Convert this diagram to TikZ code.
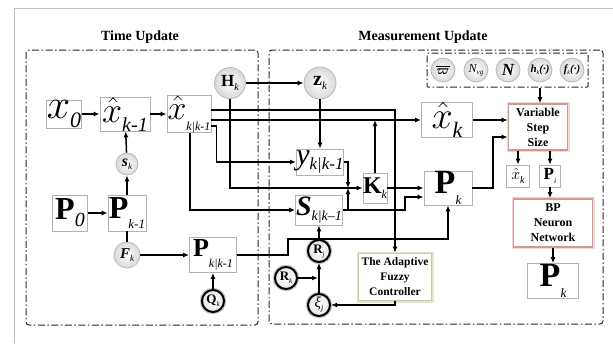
\RequirePackage{fix-cm}
\documentclass[tikz,border=0pt]{standalone}
\usepackage{amsmath,bm}
\usepackage{fontspec}
\setmainfont{Liberation Serif}
\usetikzlibrary{arrows.meta,shadows,calc}
\newcommand{\fsz}[1]{\fontsize{#1}{#1}\selectfont}
\newcommand{\lsub}[3]{\raisebox{-#1pt}{\fsz{#2}\mdseries\itshape #3}}
\newcommand{\hx}{$\hat{x}$}
\definecolor{pinkb}{RGB}{214,150,150}
\definecolor{pinkg}{RGB}{240,215,215}
\definecolor{greenb}{RGB}{190,204,160}
\definecolor{greeng}{RGB}{225,232,210}
\tikzset{
  wire/.style={line width=1.5pt, black},
  arr/.style={wire, -{Latex[length=6pt,width=5pt]}},
  blk/.style={draw=gray!60, line width=0.8pt, fill=white, inner sep=0pt,
    drop shadow={opacity=0.3, shadow xshift=0.8pt, shadow yshift=-0.8pt}},
  ball/.style={circle, draw=gray!55, line width=0.8pt, inner sep=0pt,
    minimum size=#1, inner color=white, outer color=gray!30},
  ball/.default=24pt,
  tball/.style={circle, draw=black, line width=2pt, inner sep=0pt,
    minimum size=22pt, inner color=white, outer color=gray!20,
    preaction={draw=gray!45, line width=4.5pt}},
  region/.style={draw=black!85, line width=1pt, rounded corners=3pt,
    dash pattern=on 7pt off 2.5pt on 1.5pt off 2.5pt},
  title/.style={font=\bfseries\fsz{14}},
  pinkbox/.style={draw=pinkb, line width=1.6pt, fill=white, inner sep=0pt,
    preaction={draw=pinkg, line width=4pt}, align=center,
    font=\bfseries\fontsize{12}{15}\selectfont},
  greenbox/.style={draw=greenb, line width=1.6pt, fill=white, inner sep=0pt,
    preaction={draw=greeng, line width=4pt}, align=center,
    font=\bfseries\fontsize{11.5}{15}\selectfont},
}
\begin{document}
\begin{tikzpicture}[x=1pt,y=-1pt]
\useasboundingbox (0,0) rectangle (613,343);
% page border
\draw[gray!50, line width=1pt] (14,343) -- (14,8) -- (613,8);

% regions
\node[region, minimum width=232pt, minimum height=275pt] (tu) at (142,187.5) {};
\node[region, minimum width=334pt, minimum height=274pt] (mu) at (436,187) {};
\node[title] (tut) at (140,37) {Time Update};
\node[title] (mut) at (423,37) {Measurement Update};
\node[region, rounded corners=1pt, minimum width=161pt, minimum height=34pt] (par) at (507.5,70) {};

% parameter circles
\node[ball] (c1) at (443,70) {\fsz{13}$\boldsymbol{\overline{\varpi}}$};
\node[ball] (c2) at (476,70) {\fsz{12}\itshape N\lsub{2}{7}{vg}};
\node[ball] (c3) at (508,70) {\fsz{17}\bfseries\itshape N};
\node[ball] (c4) at (540,70) {\fsz{11}\bfseries\itshape h\lsub{2}{6}{k}(·)};
\node[ball] (c5) at (572,70) {\fsz{11}\bfseries\itshape f\lsub{2}{6}{k}(·)};

% time update nodes
\node[blk, minimum width=35pt, minimum height=28pt] (x0) at (64,114) {\fsz{42}$x$\lsub{9}{22}{0}};
\node[blk, minimum width=50pt, minimum height=27pt] (xk1) at (125,114) {\fsz{36}\hx\lsub{9}{20}{k-1}};
\node[blk, minimum width=44pt, minimum height=27pt] (xkk) at (189,114) {\fsz{34}\hx\lsub{11}{12}{k|k-1}};
\node[ball=31pt] (Hk) at (230,83) {\fsz{17}\bfseries H\lsub{4}{10}{k}};
\node[ball=22pt] (sk) at (127,164) {\fsz{16}\bfseries\itshape s\lsub{3}{9}{k}};
\node[blk, minimum width=35pt, minimum height=36pt] (P0) at (70,213) {\fsz{32}\bfseries P\lsub{7}{20}{0}};
\node[blk, minimum width=38pt, minimum height=36pt] (Pk1) at (127,213) {\fsz{32}\bfseries P\lsub{10}{13}{k-1}};
\node[ball=26pt] (Fk) at (127,255) {\fsz{15}\bfseries\itshape F\lsub{3}{9}{k}};
\node[blk, minimum width=47pt, minimum height=35pt] (Pkk) at (213,255) {\fsz{26}\bfseries P\lsub{11}{12}{k|k-1}};
\node[tball] (Qk) at (213,301) {\fsz{13}\bfseries Q\lsub{3}{7}{k}};

% measurement update nodes
\node[ball=32pt] (zk) at (320,83) {\fsz{20}\bfseries z\lsub{4}{11}{k}};
\node[blk, minimum width=51pt, minimum height=35pt] (xk) at (447,120) {\fsz{38}\hx\lsub{9}{22}{k}};
\node[pinkbox, minimum width=59pt, minimum height=46pt] (VSS) at (538,127) {Variable\\Step\\Size};
\node[blk, minimum width=47pt, minimum height=26pt] (ykk) at (320,162) {\fsz{30}\itshape y\lsub{5}{17}{k|k-1}};
\node[blk, minimum width=24pt, minimum height=30pt] (Kk) at (375,188) {\fsz{24}\bfseries K\lsub{5}{12}{k}};
\node[blk, minimum width=47pt, minimum height=30pt] (Skk) at (319,210) {\fsz{28}\bfseries\itshape S\lsub{5}{14}{k|k–1}};
\node[blk, minimum width=48pt, minimum height=34pt] (Pk) at (448,188) {\fsz{34}\bfseries P\lsub{11}{13}{k}};
\node[blk, minimum width=23pt, minimum height=22pt] (xks) at (518,176) {\fsz{16}\hx\lsub{4}{10}{k}};
\node[blk, minimum width=21pt, minimum height=22pt] (Pi) at (550,176) {\fsz{17}\bfseries P\lsub{4}{8}{i}};
\node[pinkbox, minimum width=79pt, minimum height=48pt] (BP) at (553,223) {BP\\Neuron\\Network};
\node[blk, minimum width=51pt, minimum height=35pt] (Pkr) at (553,281) {\fsz{34}\bfseries P\lsub{11}{13}{k}};
\node[tball] (Rj) at (319,251) {\fsz{13}\bfseries R\lsub{3}{7}{j}};
\node[tball] (Rk) at (286,278) {\fsz{13}\bfseries R\lsub{3}{7}{k}};
\node[tball] (xij) at (319,305) {\fsz{15}\itshape ξ\lsub{3}{8}{j}};
\node[greenbox, minimum width=73pt, minimum height=47pt] (AFC) at (395,277) {The Adaptive\\Fuzzy\\Controller};

% helper coordinates
\coordinate (h110) at (0,110);
\coordinate (h127) at (0,126);
\coordinate (v190) at (190,0);
\coordinate (v540) at (540,0);
\coordinate (jK) at (348,188);
\coordinate (jS) at (405,197);
\coordinate (jP) at (493,137);
\coordinate (pb) at (288,239);

% time update wires
\draw[arr] (x0) -- (xk1);
\draw[arr] (xk1) -- (xkk);
\draw[arr] (Pk1) -- (sk);
\draw[arr] (sk) -- (xk1);
\draw[arr] (P0) -- (Pk1);
\draw[wire] (Pk1) -- (Fk);
\draw[arr] (Fk.east) -- (Fk.east -| Pkk.west);
\draw[arr] (Qk) -- (Pkk);
\draw[arr] (Hk) -- (zk);

% measurement wires
\draw[arr] (xkk.east |- h110) -| (AFC.north);
\draw[arr] (xkk.east |- xk.west) -- (xk.west);
\draw[arr] (xkk.east |- h127) -- ++(5,0) |- (ykk.west);
\draw[arr] (Hk.south) |- (Kk.west);
\draw[arr] (xkk.south -| v190) |- (Skk.west);
\draw[arr] (zk) -- (ykk);
\draw[arr] (ykk.east) -- (ykk.east -| jK) -- (jK);
\draw[arr] (Skk.east) -| (jS) -- (jS -| Pk.west);
\draw[arr] (Skk.east -| jK) -- (jK);
\draw[arr] (Kk) -- (Pk);
\draw[arr] (Kk.north) -- (Kk.north |- xk.west);
\draw[arr] (Pk.east) -| (jP) -- (jP -| VSS.west);
\draw[arr] (xk.east) -- (xk.east -| VSS.west);
\draw[arr] (VSS.south -| xks) -- (xks);
\draw[arr] (VSS.south -| Pi) -- (Pi);
\draw[arr] (Pi.south) -- (Pi.south |- BP.north);
\draw[arr] (BP) -- (Pkr);
\draw[arr] (par.south -| v540) -- (VSS.north -| v540);
\draw[arr] (Pkk.east) -| (pb) -| (Pk.south);
\draw[arr] (Rj) -- (Skk);
\draw[arr] (xij) -- (Rj);
\draw[arr] (Rk.east) -- ([xshift=-1pt]Rk.east -| Rj.center);
\draw[arr] (AFC.south) |- (xij.east);
\end{tikzpicture}
\end{document}
